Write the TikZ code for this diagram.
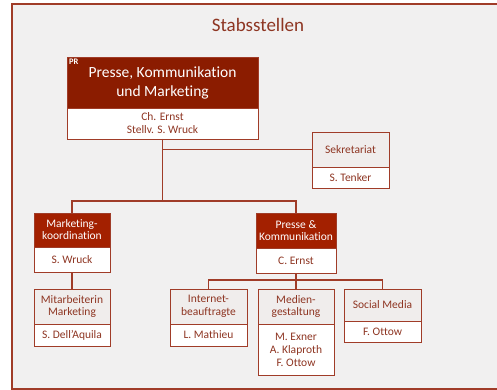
\documentclass[tikz,border=0pt]{standalone}
\usepackage{fontspec}
\setmainfont{Carlito}[Ligatures=NoCommon]
\definecolor{darkred}{HTML}{8B1C00}
\definecolor{subred}{HTML}{A32000}
\definecolor{txtred}{HTML}{8E3522}
\definecolor{brd}{HTML}{A03C28}
\definecolor{bggray}{HTML}{F1F0F0}
\definecolor{topgray}{HTML}{F0EDEC}
\tikzset{
  boxbase/.style={anchor=north west, inner sep=0pt, outer sep=0pt, align=center, draw=brd, line width=0.9pt},
  redtop/.style={boxbase, fill=subred, text=white, font=\fontsize{11.5}{12}\selectfont},
  graytop/.style={boxbase, fill=topgray, text=txtred, font=\fontsize{11.5}{12.5}\selectfont},
  whitebot/.style={boxbase, fill=white, text=txtred, font=\fontsize{11.5}{12.5}\selectfont},
  conn/.style={draw=brd, line width=1.1pt}
}
\begin{document}
\begin{tikzpicture}[x=1pt,y=-1pt]
\useasboundingbox (0,0) rectangle (497,390);
\fill[white] (0,0) rectangle (497,390);
\fill[bggray] (12,4) rectangle (497,389);
\draw[brd, line width=1.3pt] (12,4) rectangle (510,389);
\node[text=txtred, font=\fontsize{19}{22}\selectfont] (title) at (258,25) {Stabsstellen};

% main box
\node[boxbase, fill=darkred, text=white, font=\fontsize{15.5}{19}\selectfont, minimum width=191pt, minimum height=51pt] (maint) at (67,57) {Presse, Kommunikation\\und Marketing};
\node[anchor=north west, inner sep=2pt, text=white, font=\bfseries\fontsize{8.5}{9}\selectfont] (pr) at (maint.north west) {PR};
\node[whitebot, font=\fontsize{11.5}{13}\selectfont, minimum width=191pt, minimum height=31pt] (mainb) at (67,108) {Ch. Ernst\\Stellv. S. Wruck};

% Sekretariat
\node[graytop, minimum width=77pt, minimum height=35pt] (sekt) at (312,132) {Sekretariat};
\node[whitebot, minimum width=77pt, minimum height=21pt] (sekb) at (312,167) {S. Tenker};

% Marketingkoordination
\node[redtop, minimum width=76pt, minimum height=34pt] (mkt) at (34,213) {Marketing-\\koordination};
\node[whitebot, minimum width=76pt, minimum height=25pt] (mkb) at (34,247) {S. Wruck};

% Presse & Kommunikation
\node[redtop, minimum width=80pt, minimum height=35pt] (pkt) at (256,213) {Presse \&\\Kommunikation};
\node[whitebot, minimum width=80pt, minimum height=25pt] (pkb) at (256,248) {C. Ernst};

% Mitarbeiterin
\node[graytop, minimum width=76pt, minimum height=35pt] (mitt) at (34,289) {Mitarbeiterin\\Marketing};
\node[whitebot, minimum width=76pt, minimum height=22pt] (mitb) at (34,324) {S. Dell’Aquila};

% Internet
\node[graytop, minimum width=77pt, minimum height=35pt] (intt) at (170,289) {Internet-\\beauftragte};
\node[whitebot, minimum width=77pt, minimum height=22pt] (intb) at (170,324) {L. Mathieu};

% Medien
\node[graytop, minimum width=76pt, minimum height=35pt] (medt) at (258,289) {Medien-\\gestaltung};
\node[whitebot, font=\fontsize{11.5}{13}\selectfont, minimum width=76pt, minimum height=51pt] (medb) at (258,324) {M. Exner\\A. Klaproth\\F. Ottow};

% Social Media
\node[graytop, minimum width=77pt, minimum height=32pt] (soct) at (344,289) {Social Media};
\node[whitebot, minimum width=77pt, minimum height=21pt] (socb) at (344,321) {F. Ottow};

% connectors
\coordinate (j1) at ([yshift=-62pt]mainb.south);
\draw[conn] (mainb.south) -- (j1);
\draw[conn] (sekt.west) -- (sekt.west -| mainb.south);
\draw[conn] (j1) -| (mkt.north);
\draw[conn] (j1) -| (pkt.north);
\draw[conn] (mkb.south) -- (mitt.north);
\coordinate (j2) at ([yshift=-7pt]pkb.south);
\draw[conn] (pkb.south) -- (medt.north);
\draw[conn] (j2) -| (intt.north);
\draw[conn] (j2) -| (soct.north);
\end{tikzpicture}
\end{document}
